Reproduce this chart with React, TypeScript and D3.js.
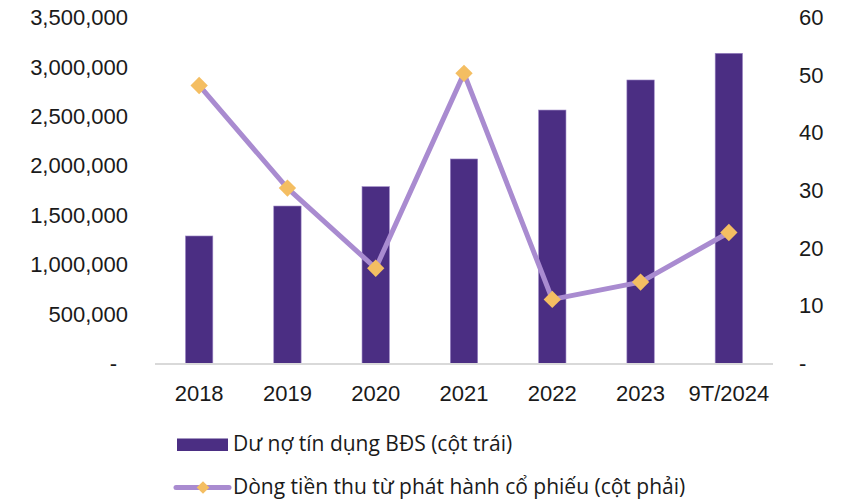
import React, { useRef, useEffect } from 'react';
import * as d3 from 'd3';

const years = ['2018', '2019', '2020', '2021', '2022', '2023', '9T/2024'];
const credit = [1295000, 1598000, 1794000, 2074000, 2569000, 2873000, 3143000];
const equityFlow = [48.3, 30.5, 16.6, 50.4, 11.2, 14.2, 22.8];
const leftTicks = [0, 500000, 1000000, 1500000, 2000000, 2500000, 3000000, 3500000];
const rightTicks = [0, 10, 20, 30, 40, 50, 60];
const barLabel = 'Dư nợ tín dụng BĐS (cột trái)';
const lineLabel = 'Dòng tiền thu từ phát hành cổ phiếu (cột phải)';

const W = 851;
const H = 500;
const BAR = '#4b2e83';
const LINE = '#a98bd0';
const MARK = '#f4be62';
const AXIS_FONT = "'Liberation Sans', Arial, sans-serif";

export default function App() {
  const svgRef = useRef<SVGSVGElement>(null);

  useEffect(() => {
    if (!svgRef.current) return;
    const svg = d3.select(svgRef.current);
    svg.selectAll('*').remove();

    const left = 155, right = 773, top = 18, bottom = 364;

    const x = d3.scaleBand().domain(years).range([left, right]).paddingInner(0.69).paddingOuter(0.345);
    const yL = d3.scaleLinear().domain([0, 3500000]).range([bottom, top]);
    const yR = d3.scaleLinear().domain([0, 60]).range([bottom, top]);
    const cx = (d: string) => (x(d) ?? 0) + x.bandwidth() / 2;

    // left axis labels
    const fmt = (v: number) => (v === 0 ? '-' : d3.format(',')(v));
    const gl = svg.append('g').attr('transform', `translate(128,0)`);
    gl.call(d3.axisLeft(yL).tickValues(leftTicks).tickFormat((d) => fmt(+d)).tickSize(0).tickPadding(0));
    gl.select('.domain').remove();
    gl.selectAll('text').attr('font-family', AXIS_FONT).attr('font-size', 22).attr('fill', '#1a1a1a').attr('dy', '0.3em')
      .attr('dx', (d: any) => (d === 0 ? -11 : 0));

    // right axis labels
    const gr = svg.append('g').attr('transform', `translate(799,0)`);
    gr.call(d3.axisRight(yR).tickValues(rightTicks).tickFormat((d) => (+d === 0 ? '-' : String(d))).tickSize(0).tickPadding(0));
    gr.select('.domain').remove();
    gr.selectAll('text').attr('font-family', AXIS_FONT).attr('font-size', 22).attr('fill', '#1a1a1a').attr('dy', '0.3em');

    // bars
    svg.append('g').selectAll('rect').data(years).join('rect')
      .attr('x', (d) => x(d) ?? 0)
      .attr('y', (_, i) => yL(credit[i]))
      .attr('width', x.bandwidth())
      .attr('height', (_, i) => bottom - yL(credit[i]))
      .attr('fill', BAR)
      .attr('stroke', '#9d88c6')
      .attr('stroke-width', 0.6);

    // baseline
    svg.append('line').attr('x1', left).attr('x2', right).attr('y1', bottom).attr('y2', bottom)
      .attr('stroke', '#d9d9d9').attr('stroke-width', 2);

    // x labels
    svg.append('g').selectAll('text').data(years).join('text')
      .attr('x', cx).attr('y', 401)
      .attr('text-anchor', 'middle')
      .attr('font-family', AXIS_FONT)
      .attr('font-size', 22).attr('fill', '#1a1a1a')
      .text((d) => d);

    // line
    const line = d3.line<number>().x((_, i) => cx(years[i])).y((d) => yR(d));
    svg.append('path').datum(equityFlow).attr('d', line).attr('fill', 'none')
      .attr('stroke', LINE).attr('stroke-width', 5).attr('stroke-linejoin', 'round');

    const diamond = d3.symbol().type(d3.symbolSquare).size(150);
    svg.append('g').selectAll('path').data(equityFlow).join('path')
      .attr('d', diamond)
      .attr('transform', (d, i) => `translate(${cx(years[i])},${yR(d)}) rotate(45)`)
      .attr('fill', MARK);

    // legend
    const lg = svg.append('g').attr('font-family', "'Open Sans', 'Noto Sans', sans-serif").attr('font-size', 21).attr('fill', '#1a1a1a');
    lg.append('rect').attr('x', 177).attr('y', 438.5).attr('width', 51).attr('height', 12.5).attr('fill', BAR);
    lg.append('text').attr('x', 233).attr('y', 451).text(barLabel);
    lg.append('line').attr('x1', 176).attr('x2', 229).attr('y1', 487.5).attr('y2', 487.5)
      .attr('stroke', LINE).attr('stroke-width', 5).attr('stroke-linecap', 'round');
    lg.append('path').attr('d', d3.symbol().type(d3.symbolSquare).size(80)).attr('transform', 'translate(203,487.5) rotate(45)').attr('fill', MARK);
    lg.append('text').attr('x', 233).attr('y', 494).text(lineLabel);
  }, []);

  return (
    <svg ref={svgRef} width={W} height={H} style={{ position: 'absolute', left: 0, top: 0, background: '#fff' }} />
  );
}
